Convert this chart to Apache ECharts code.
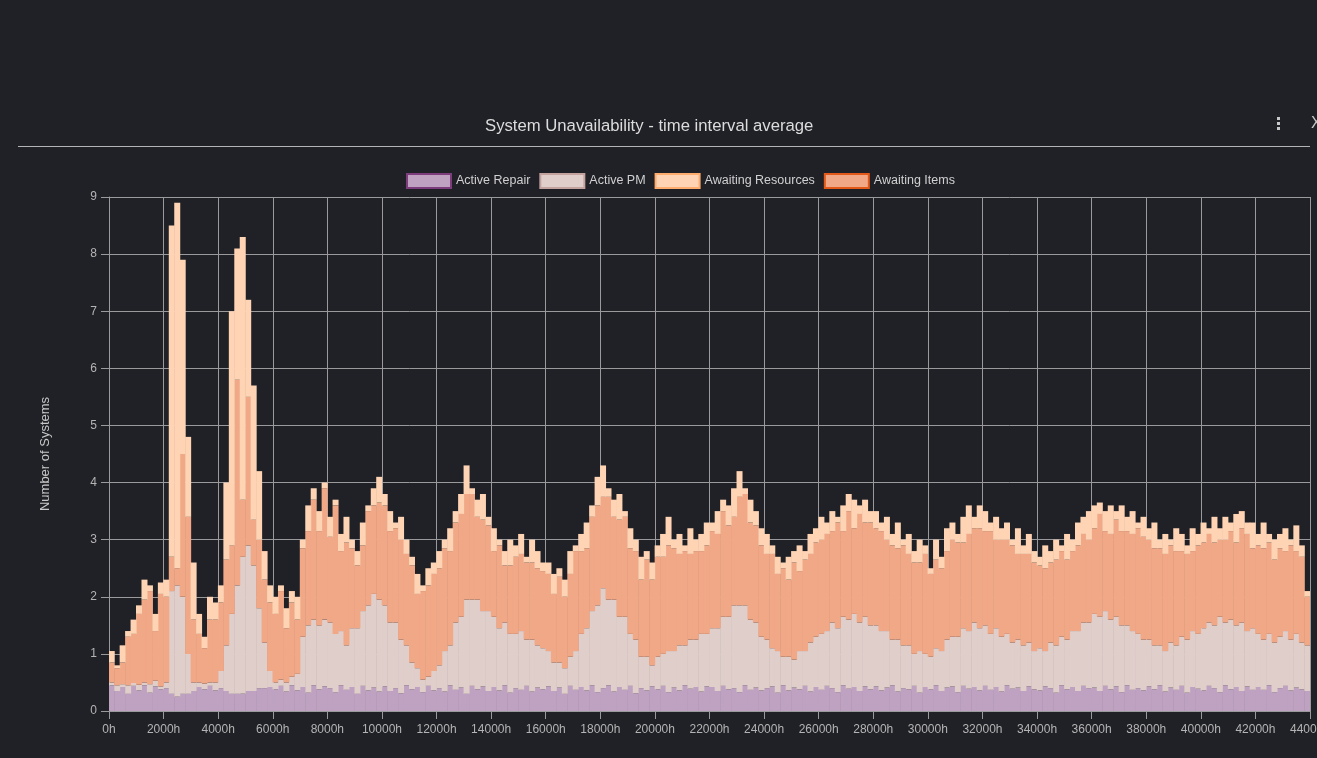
<!DOCTYPE html>
<html>
<head>
<meta charset="utf-8">
<script src="https://cdn.jsdelivr.net/npm/echarts@6/dist/echarts.min.js"></script>
<style>
  html, body { margin: 0; padding: 0; background: #202126; overflow: hidden; }
  #chart { width: 1317px; height: 758px; }
</style>
</head>
<body>
<div id="chart"></div>
<script>
// each bar covers 200h of simulated time
const repair = [
  .45,.35,.42,.3,.44,.36,.45,.32,.43,.38,
  .4,.3,.25,.3,.3,.35,.42,.38,.44,.36,
  .4,.35,.3,.3,.3,.35,.35,.4,.4,.42,
  .38,.44,.34,.45,.36,.42,.32,.45,.38,.43,
  .4,.33,.45,.37,.42,.3,.44,.36,.41,.34,
  .43,.35,.4,.31,.45,.38,.42,.33,.44,.36,
  .4,.34,.45,.37,.41,.3,.44,.38,.43,.35,
  .42,.36,.45,.32,.4,.37,.44,.34,.41,.38,
  .43,.35,.41,.3,.44,.37,.42,.36,.45,.33,
  .4,.45,.34,.42,.37,.44,.31,.4,.36,.43,
  .38,.44,.33,.41,.36,.45,.39,.42,.34,.43,
  .42,.35,.44,.38,.4,.33,.45,.37,.41,.36,
  .4,.43,.32,.45,.36,.41,.38,.44,.34,.42,
  .37,.44,.4,.33,.45,.39,.42,.35,.43,.38,
  .43,.36,.41,.45,.34,.4,.38,.44,.32,.42,
  .38,.45,.35,.41,.43,.33,.44,.39,.42,.36,
  .44,.37,.42,.34,.45,.39,.41,.35,.43,.38,
  .36,.43,.4,.32,.45,.38,.42,.35,.44,.4,
  .41,.35,.44,.38,.43,.33,.45,.37,.4,.36,
  .43,.38,.45,.34,.41,.37,.44,.32,.42,.39,
  .36,.44,.4,.33,.45,.38,.42,.35,.43,.37,
  .42,.37,.45,.33,.4,.44,.36,.41,.38,.35
];
const pm = [
  .05,.1,.05,.15,.05,.1,.05,.15,.1,.05,
  .1,1.8,1.95,1.7,.7,.15,.08,.1,.06,.14,
  .3,.8,1.4,1.9,2.4,2.55,2.2,1.4,.8,.28,
  .12,.11,.16,.15,.29,.88,1.18,1.15,1.12,1.17,
  1.15,1.02,.95,.78,1.03,1.15,1.31,1.49,1.64,1.61,
  1.42,1.2,1.15,.94,.7,.47,.33,.22,.16,.34,
  .4,.71,.7,1.18,1.24,1.65,1.51,1.57,1.32,1.4,
  1.23,1.09,1.1,1.03,.95,1.03,.81,.91,.74,.72,
  .62,.5,.44,.45,.51,.68,.93,1.09,1.3,1.52,
  1.75,1.5,1.61,1.23,1.28,.91,.94,.55,.59,.37,
  .57,.56,.72,.64,.79,.7,.86,.83,1.01,.92,
  1.03,1.1,1.21,1.27,1.45,1.52,1.4,1.23,1.14,.94,
  .85,.67,.73,.5,.59,.49,.67,.61,.86,.88,
  .98,.96,1.15,1.12,1.2,1.21,1.28,1.2,1.22,1.12,
  1.07,1.04,.99,.8,.91,.75,.77,.56,.73,.58,
  .57,.65,.7,.84,.87,.97,1.01,1.01,1.13,1.09,
  1.06,.98,1.03,.96,.9,.81,.84,.8,.77,.67,
  .74,.62,.8,.83,.85,.87,.98,1.05,1.11,1.15,
  1.29,1.3,1.31,1.22,1.22,1.17,1.05,1.03,.95,.89,
  .82,.77,.7,.71,.79,.78,.86,.93,.98,.96,
  1.09,1.11,1.1,1.32,1.1,1.22,1.08,1.2,.97,1.08,
  .93,.88,.9,.87,.9,.96,.89,.94,.82,.8
];
const items = [
  .35,.3,.38,.85,.86,1.24,1.45,1.63,.87,1.62,
  1.5,.6,.3,2.5,2.4,1.1,.85,.62,1.1,1.1,
  1.2,1.5,1.2,3.6,1.0,2.6,.8,1.2,1.1,1.2,
  1.2,1.55,.95,1.3,.95,1.55,1.65,2.1,1.65,2.3,
  1.5,2.25,1.4,1.8,1.4,1.1,1.15,1.65,1.55,1.7,
  1.75,1.6,1.65,1.75,1.6,1.7,1.3,1.55,1.6,1.7,
  1.7,1.8,1.65,1.75,1.8,1.85,1.85,1.45,1.6,1.5,
  1.15,1.45,1.0,1.2,1.35,1.35,1.35,1.35,1.35,1.35,
  1.35,1.2,1.5,1.25,1.45,1.75,1.45,1.4,1.65,1.75,
  1.6,1.8,1.45,1.7,1.75,1.5,1.55,1.35,1.7,1.5,
  1.75,1.7,1.85,1.8,1.6,1.65,1.5,1.55,1.45,1.55,
  1.7,1.65,1.85,1.6,1.55,1.9,1.95,1.7,1.7,1.6,
  1.5,1.65,1.35,1.55,1.35,1.7,1.4,1.6,1.55,1.65,
  1.65,1.7,1.6,1.85,1.5,1.9,1.5,1.9,1.65,1.8,
  1.7,1.75,1.6,1.65,1.6,1.75,1.6,1.6,1.55,1.75,
  1.45,1.55,1.45,1.55,1.7,1.65,1.5,1.7,1.65,1.75,
  1.65,1.8,1.55,1.7,1.65,1.7,1.5,1.6,1.55,1.55,
  1.45,1.45,1.4,1.5,1.5,1.4,1.4,1.5,1.55,1.45,
  1.5,1.8,1.4,1.5,1.7,1.65,1.65,1.7,1.85,1.8,
  1.75,1.7,1.7,1.7,1.7,1.65,1.5,1.5,1.4,1.55,
  1.5,1.55,1.45,1.35,1.45,1.55,1.45,1.65,1.7,1.4,
  1.55,1.6,1.6,1.45,1.55,1.4,1.65,1.45,1.5,.85
];
const resources = [
  .2,.05,.3,.1,.25,.15,.35,.1,.3,.2,
  .3,5.8,6.4,3.4,1.4,1.0,.35,.2,.4,.3,
  .3,1.35,4.1,2.3,4.6,1.7,2.35,1.2,.5,.3,
  .3,.1,.35,.2,.4,.15,.45,.2,.35,.1,
  .35,.1,.3,.45,.15,.25,.4,.1,.3,.45,
  .2,.35,.1,.4,.25,.15,.35,.1,.3,.2,
  .3,.15,.4,.2,.35,.5,.1,.3,.45,.15,
  .4,.1,.25,.45,.2,.35,.1,.4,.3,.15,
  .2,.35,.15,.3,.4,.1,.3,.45,.2,.5,
  .55,.15,.3,.45,.1,.35,.2,.4,.15,.3,
  .2,.4,.5,.15,.35,.1,.45,.2,.3,.4,
  .15,.4,.2,.35,.5,.45,.1,.4,.25,.3,
  .35,.15,.3,.1,.4,.2,.45,.15,.35,.25,
  .4,.2,.35,.1,.45,.3,.5,.15,.4,.2,
  .3,.15,.4,.2,.45,.1,.35,.2,.4,.15,
  .1,.35,.2,.4,.3,.15,.45,.5,.2,.4,
  .35,.15,.4,.2,.3,.1,.45,.15,.35,.2,
  .15,.4,.2,.35,.1,.45,.2,.4,.3,.5,
  .4,.2,.35,.5,.15,.45,.25,.4,.1,.35,
  .2,.45,.15,.35,.1,.4,.3,.15,.4,.2,
  .35,.1,.45,.2,.4,.15,.5,.3,.2,.45,
  .2,.45,.15,.35,.25,.4,.1,.45,.2,.1
];
// bar centres in hours (one category per bar)
const hours = repair.map((_, i) => 100 + 200 * i);

const gridColor = "#9a9a9c";
const font = "Liberation Sans, Arial, sans-serif";

let myChart = echarts.init(document.getElementById("chart"));
myChart.setOption({
  backgroundColor: "#202126",
  animation: false,
  textStyle: { fontFamily: font },
  title: {
    text: "System Unavailability - time interval average",
    left: 480,
    top: 113,
    textStyle: { color: "#dcdcdc", fontSize: 16.7, fontWeight: "normal", fontFamily: font }
  },
  graphic: [
    { type: "line", shape: { x1: 18, y1: 146.5, x2: 1310, y2: 146.5 }, style: { stroke: "#b4b4b4", lineWidth: 1 } },
    { type: "rect", shape: { x: 1277, y: 117, width: 3, height: 3 }, style: { fill: "#c8c8c8" } },
    { type: "rect", shape: { x: 1277, y: 122, width: 3, height: 3 }, style: { fill: "#c8c8c8" } },
    { type: "rect", shape: { x: 1277, y: 127, width: 3, height: 3 }, style: { fill: "#c8c8c8" } },
    { type: "text", left: 1311, top: 116, style: { text: "X", fill: "#c8c8c8", fontSize: 16, fontFamily: font } }
  ],
  legend: {
    left: 401,
    top: 168,
    itemWidth: 44,
    itemHeight: 14,
    itemGap: 9,
    icon: "rect",
    textStyle: { color: "#d0d0d0", fontSize: 12.5, fontFamily: font },
    data: [
      { name: "Active Repair", itemStyle: { borderColor: "#7d3d7d", borderWidth: 2 } },
      { name: "Active PM", itemStyle: { borderColor: "#c4a39f", borderWidth: 2 } },
      { name: "Awaiting Resources", itemStyle: { borderColor: "#ffad6e", borderWidth: 2 } },
      { name: "Awaiting Items", itemStyle: { borderColor: "#e2591a", borderWidth: 2 } }
    ]
  },
  grid: { left: 109, right: 7, top: 197, bottom: 47, containLabel: false, outerBoundsMode: "none" },
  xAxis: [
    {
      // bars sit on this one
      type: "category",
      data: hours,
      boundaryGap: true,
      show: false
    },
    {
      // visible time scale
      type: "value",
      min: 0,
      max: 44000,
      interval: 2000,
      position: "bottom",
      axisLine: { show: true, lineStyle: { color: gridColor } },
      axisTick: { show: true, length: 8, lineStyle: { color: gridColor } },
      splitLine: { show: true, lineStyle: { color: gridColor } },
      axisLabel: {
        color: "#b4b4b4",
        fontSize: 12,
        margin: 13,
        formatter: function (v) { return v + "h"; }
      }
    }
  ],
  yAxis: {
    type: "value",
    min: 0,
    max: 9,
    interval: 1,
    name: "Number of Systems",
    nameLocation: "middle",
    nameGap: 57,
    nameTextStyle: { color: "#c8c8c8", fontSize: 13, fontFamily: font },
    axisLine: { show: true, lineStyle: { color: gridColor } },
    axisTick: { show: true, length: 8, lineStyle: { color: gridColor } },
    splitLine: { show: true, lineStyle: { color: gridColor } },
    axisLabel: { color: "#b4b4b4", fontSize: 12, margin: 12 }
  },
  series: [
    { name: "Active Repair", type: "bar", stack: "all", barWidth: 6, itemStyle: { color: "#bfa2c2" }, data: repair },
    { name: "Active PM", type: "bar", stack: "all", barWidth: 6, itemStyle: { color: "#e0cecb" }, data: pm },
    { name: "Awaiting Items", type: "bar", stack: "all", barWidth: 6, itemStyle: { color: "#f1a887" }, data: items },
    { name: "Awaiting Resources", type: "bar", stack: "all", barWidth: 6, itemStyle: { color: "#ffd4b4" }, data: resources }
  ]
});
window.addEventListener("resize", function () {
  myChart.resize();
});
</script>
</body>
</html>
